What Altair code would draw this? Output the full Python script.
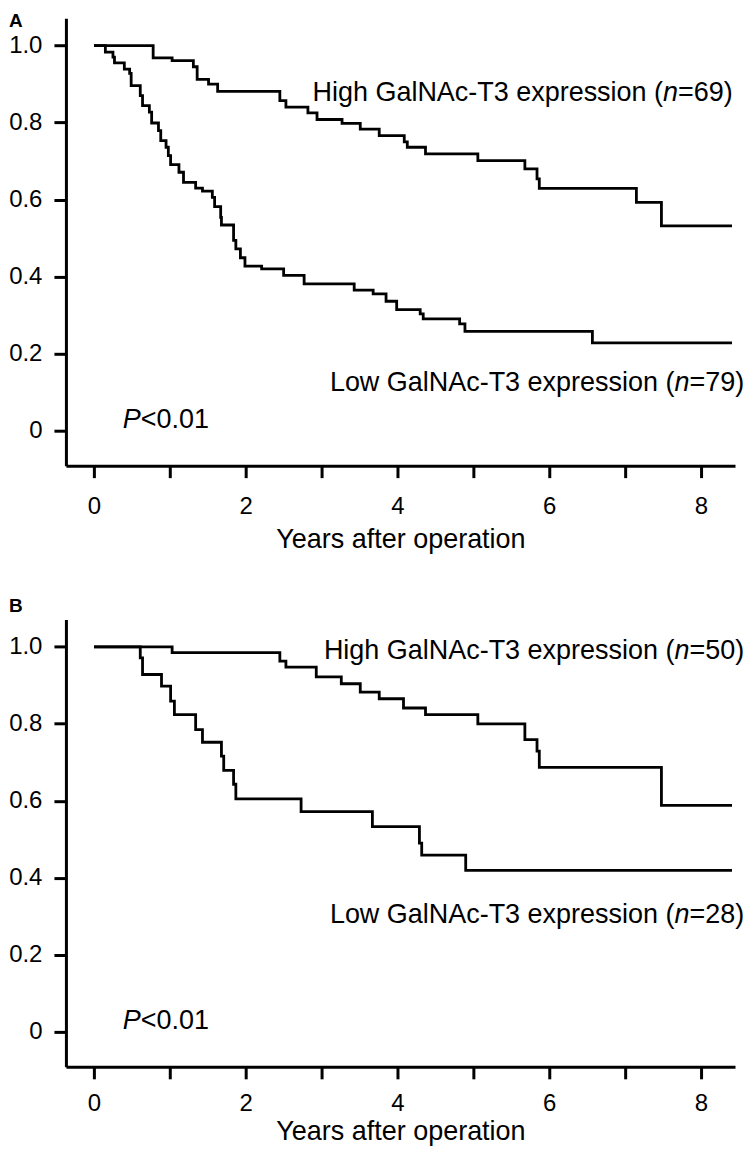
import altair as alt
import pandas as pd

# ---------------- data ----------------
# Panel A
A_HIGH_T = [0, 0.78, 1.03, 1.31, 1.36, 1.51, 1.63, 2.45, 2.53, 2.82, 2.94, 3.27, 3.51, 3.76,
            4.09, 4.13, 4.37, 5.06, 5.68, 5.84, 5.87, 7.15, 7.48, 8.41]
A_HIGH_S = [1.0, 0.968, 0.961, 0.945, 0.912, 0.900, 0.881, 0.857, 0.840, 0.825, 0.808, 0.798, 0.783, 0.766,
            0.750, 0.736, 0.719, 0.701, 0.680, 0.654, 0.629, 0.593, 0.532, 0.532]
A_LOW_T = [0, 0.15, 0.25, 0.27, 0.40, 0.47, 0.49, 0.61, 0.64, 0.73, 0.76, 0.85, 0.88, 0.95, 0.98,
           1.01, 1.12, 1.18, 1.34, 1.43, 1.56, 1.59, 1.67, 1.68, 1.84, 1.87, 1.93, 1.99, 2.21,
           2.50, 2.77, 3.43, 3.68, 3.85, 3.99, 4.30, 4.34, 4.82, 4.89, 6.57, 8.41]
A_LOW_S = [1.0, 0.983, 0.970, 0.955, 0.939, 0.928, 0.896, 0.870, 0.844, 0.827, 0.799, 0.779, 0.753, 0.736, 0.714,
           0.691, 0.671, 0.645, 0.630, 0.622, 0.606, 0.582, 0.554, 0.534, 0.494, 0.472, 0.449, 0.427, 0.420,
           0.403, 0.381, 0.365, 0.355, 0.336, 0.314, 0.303, 0.290, 0.277, 0.258, 0.228, 0.228]

# Panel B
B_HIGH_T = [0, 1.03, 2.45, 2.53, 2.93, 3.26, 3.51, 3.76, 4.08, 4.37, 5.06, 5.68, 5.84, 5.87, 7.48, 8.41]
B_HIGH_S = [1.0, 0.985, 0.963, 0.947, 0.922, 0.904, 0.882, 0.865, 0.841, 0.824, 0.800, 0.759, 0.729, 0.687, 0.588, 0.588]
B_LOW_T = [0, 0.61, 0.64, 0.89, 1.01, 1.06, 1.34, 1.43, 1.68, 1.71, 1.84, 1.87, 2.73, 3.67, 4.29, 4.32, 4.90, 8.41]
B_LOW_S = [1.0, 0.971, 0.928, 0.898, 0.859, 0.824, 0.785, 0.752, 0.716, 0.679, 0.643, 0.605, 0.572, 0.533, 0.490, 0.459, 0.419, 0.419]

# annotation labels
A_LABEL_PREFIX = ["High GalNAc-T3 expression (", "Low GalNAc-T3 expression ("]
A_LABEL_N = ["=69)", "=79)"]
A_LABEL_X = [8.42, 8.57]
A_LABEL_Y = [0.857, 0.104]
B_LABEL_PREFIX = ["High GalNAc-T3 expression (", "Low GalNAc-T3 expression ("]
B_LABEL_N = ["=50)", "=28)"]
B_LABEL_X = [8.57, 8.57]
B_LABEL_Y = [0.969, 0.282]
P_TEXT = "<0.01"
P_X = 0.38
P_Y = 0.008

X_TICKS = [0, 1, 2, 3, 4, 5, 6, 7, 8]
Y_TICKS = [0, 0.2, 0.4, 0.6, 0.8, 1.0]
X_DOMAIN = [-0.37, 8.45]
Y_DOMAIN = [-0.091, 1.071]
X_TITLE = "Years after operation"

FONT = "Liberation Sans"
FS = 27
LETTER_FS = 19
SUFFIX_W = 2.029 * FS   # width of "=NN)"
ITAL_N_W = 0.556 * FS   # width of italic "n"
ITAL_P_W = 0.667 * FS   # width of italic "P"


def make_panel(letter, letter_dy, label_pad, title_pad,
               high_t, high_s, low_t, low_s, prefixes, suffixes, lx, ly):
    curves = pd.concat([
        pd.DataFrame({"t": high_t, "s": high_s, "group": "high"}),
        pd.DataFrame({"t": low_t, "s": low_s, "group": "low"}),
    ])
    xs = alt.Scale(domain=X_DOMAIN, nice=False, zero=False)
    ys = alt.Scale(domain=Y_DOMAIN, nice=False, zero=False)
    x_axis = alt.Axis(
        values=X_TICKS, labelExpr="datum.value % 2 === 0 ? datum.label : ''",
        grid=False, domainColor="black", domainWidth=3, tickColor="black", tickWidth=3,
        tickSize=12, labelPadding=label_pad, labelFont=FONT, labelFontSize=24, labelColor="black",
        titleFont=FONT, titleFontSize=FS, titleFontWeight="normal", titleColor="black",
        titlePadding=title_pad, labelFlush=False, labelOverlap=False,
    )
    y_axis = alt.Axis(
        values=Y_TICKS, labelExpr="datum.value === 0 ? '0' : format(datum.value, '.1f')",
        grid=False, domainColor="black", domainWidth=3, tickColor="black", tickWidth=3,
        tickSize=12, labelPadding=12, labelFont=FONT, labelFontSize=24, labelColor="black",
        labelFlush=False, labelOverlap=False,
    )

    def X(field):
        return alt.X(field, scale=xs, axis=x_axis, title=X_TITLE)

    def Y(field):
        return alt.Y(field, scale=ys, axis=y_axis, title=None)

    lines = alt.Chart(curves).mark_line(
        interpolate="step-after", color="black", strokeWidth=2.8
    ).encode(x=X("t:Q"), y=Y("s:Q"), detail="group:N")

    ann = pd.DataFrame({"x": lx, "y": ly, "prefix": prefixes, "ital": ["n", "n"], "suffix": suffixes})
    base = alt.Chart(ann)
    common = dict(align="right", baseline="alphabetic", font=FONT, fontSize=FS, color="black")
    t_suffix = base.mark_text(**common).encode(x=X("x:Q"), y=Y("y:Q"), text="suffix:N")
    t_ital = base.mark_text(fontStyle="italic", dx=-SUFFIX_W, **common).encode(
        x=X("x:Q"), y=Y("y:Q"), text="ital:N")
    t_prefix = base.mark_text(dx=-(SUFFIX_W + ITAL_N_W), **common).encode(
        x=X("x:Q"), y=Y("y:Q"), text="prefix:N")

    pdf = pd.DataFrame({"x": [P_X], "y": [P_Y], "p": ["P"], "rest": [P_TEXT]})
    pbase = alt.Chart(pdf)
    pcommon = dict(align="left", baseline="alphabetic", font=FONT, fontSize=FS, color="black")
    p1 = pbase.mark_text(fontStyle="italic", **pcommon).encode(x=X("x:Q"), y=Y("y:Q"), text="p:N")
    p2 = pbase.mark_text(dx=ITAL_P_W, **pcommon).encode(x=X("x:Q"), y=Y("y:Q"), text="rest:N")

    let = alt.Chart(pd.DataFrame({"lab": [letter]})).mark_text(
        align="left", baseline="top", font=FONT, fontSize=LETTER_FS, fontWeight="bold", color="black"
    ).encode(x=alt.value(-57), y=alt.value(letter_dy), text="lab:N")

    return alt.layer(lines, t_suffix, t_ital, t_prefix, p1, p2, let).properties(width=670, height=448)


panel_a = make_panel("A", -6.5, 17, 8, A_HIGH_T, A_HIGH_S, A_LOW_T, A_LOW_S,
                     A_LABEL_PREFIX, A_LABEL_N, A_LABEL_X, A_LABEL_Y)
panel_b = make_panel("B", -22, 13, 2.5, B_HIGH_T, B_HIGH_S, B_LOW_T, B_LOW_S,
                     B_LABEL_PREFIX, B_LABEL_N, B_LABEL_X, B_LABEL_Y)

chart = alt.vconcat(panel_a, panel_b, spacing=45).properties(
    padding={"top": 2.5, "left": 0, "right": 0, "bottom": 0}, background="white"
).configure_view(strokeWidth=0)

chart.save("out.html", embed_options={"renderer": "svg", "actions": False})
